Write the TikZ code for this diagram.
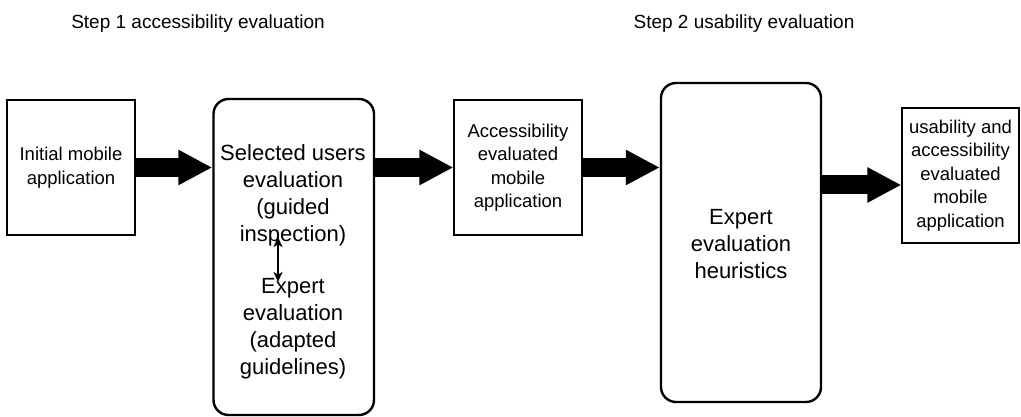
\documentclass[tikz,border=0pt]{standalone}
\usepackage{fontspec}
\setmainfont{Liberation Sans}
\usetikzlibrary{arrows.meta,calc}
\begin{document}
\begin{tikzpicture}[x=1pt,y=-1pt,
  plainbox/.style={draw, line width=1.2pt, inner sep=0pt, align=center,
    font=\fontsize{18.5}{23.5}\selectfont},
  roundbox/.style={draw, line width=2.4pt, rounded corners=15pt, inner sep=0pt},
  bigtext/.style={align=center, inner sep=0pt, font=\fontsize{22}{27}\selectfont},
  titletext/.style={anchor=base, inner sep=0pt, font=\fontsize{19}{23}\selectfont},
  fat/.style={line width=19pt, -{Triangle[width=33pt,length=34pt]}},
  thin/.style={line width=1.3pt, {Stealth[length=10pt,width=9pt,inset=2.5pt]}-{Stealth[length=10pt,width=9pt,inset=2.5pt]}}
]
\useasboundingbox (0,0) rectangle (1021,417);

\node[titletext] (t1) at (198,29) {Step 1 accessibility evaluation};
\node[titletext] (t2) at (744,29) {Step 2 usability evaluation};

\node[plainbox, minimum width=128pt, minimum height=135pt] (b1) at (71,167.5)
  {Initial mobile\\application};
\node[roundbox, minimum width=160.5pt, minimum height=316pt] (b2) at (293.75,257) {};
\node[bigtext] (b2a) at (293,195) {Selected users\\evaluation\\(guided\\inspection)};
\node[bigtext] (b2b) at (293,328.5) {Expert\\evaluation\\(adapted\\guidelines)};
\node[plainbox, minimum width=128pt, minimum height=135pt] (b3) at (518,167.5)
  {Accessibility\\evaluated\\mobile\\application};
\node[roundbox, minimum width=160pt, minimum height=319pt] (b4) at (741,242.5) {};
\node[bigtext] (b4t) at (741,244) {Expert\\evaluation\\heuristics};
\node[plainbox, minimum width=117pt, minimum height=135pt] (b5) at (960.5,175.5)
  {usability and\\accessibility\\evaluated\\mobile\\application};

\coordinate (da) at (278,237);
\coordinate (db) at (278,282);
\draw[thin] (da) -- (db);

\draw[fat] (b1.east) -- (b2.west |- b1.east);
\draw[fat] (b2.east |- b3.west) -- (b3.west);
\draw[fat] (b3.east) -- (b4.west |- b3.east);
\draw[fat] ($(b4.east |- b5.west)+(0,9.5)$) -- ($(b5.west)+(0,9.5)$);
\end{tikzpicture}
\end{document}
